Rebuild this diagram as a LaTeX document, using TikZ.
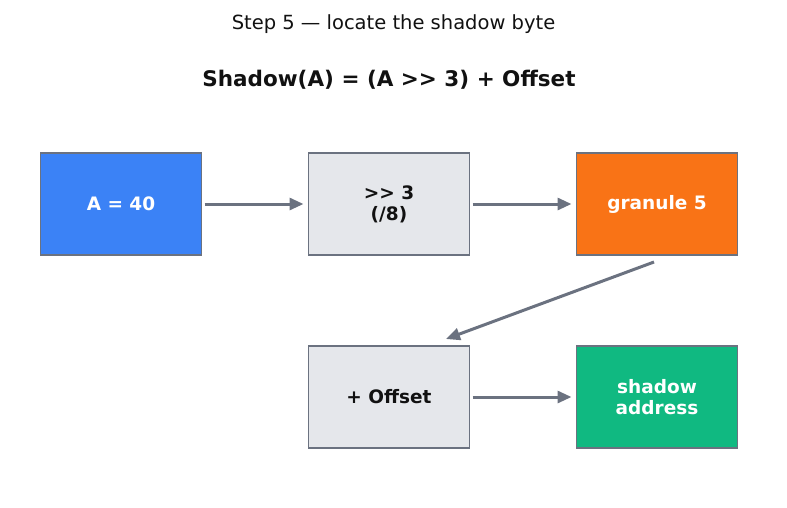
\documentclass[tikz,border=0pt]{standalone}
\usepackage{fontspec}
\setmainfont{DejaVu Sans}
\usepackage{xcolor}
\usetikzlibrary{positioning,calc,arrows.meta}

\definecolor{edgegray}{HTML}{6B7280}
\definecolor{boxgray}{HTML}{E5E7EB}
\definecolor{addrblue}{HTML}{3B82F6}
\definecolor{granorange}{HTML}{F97316}
\definecolor{shadowgreen}{HTML}{10B981}
\definecolor{inkdark}{HTML}{111111}

\tikzset{
    stagebox/.style={draw=edgegray, line width=1.8pt, outer sep=0pt, minimum width=161pt,
        minimum height=102pt, align=center, font=\bfseries\fontsize{18.5}{21}\selectfont},
    flow/.style={-{Triangle[length=14pt,width=12pt]}, draw=edgegray, line width=3pt,
        shorten <=3pt, shorten >=5pt}
}

\begin{document}
\begin{tikzpicture}[x=1pt,y=-1pt]
    \useasboundingbox (0,0) rectangle (787,507);

    % heading and formula
    \node[text=inkdark, font=\fontsize{19.5}{22}\selectfont] (title) at (393.5,24) {Step 5 — locate the shadow byte};
    \node[text=inkdark, font=\bfseries\fontsize{21.5}{25}\selectfont] (formula) at (389,80) {Shadow(A) = (A >{}> 3) + Offset};

    % top row
    \node[stagebox, fill=addrblue, text=white] (addr) at (121,204) {A = 40};
    \node[stagebox, fill=boxgray, text=inkdark, right=107pt of addr] (shift) {>{}> 3\\(/8)};
    \node[stagebox, fill=granorange, text=white, right=107pt of shift] (gran) {granule 5};

    % bottom row
    \node[stagebox, fill=boxgray, text=inkdark, below=91pt of shift] (off) {+ Offset};
    \node[stagebox, fill=shadowgreen, text=white, right=107pt of off] (shadow) {shadow\\address};

    % connectors
    \draw[flow] (addr) -- (shift);
    \draw[flow] (shift) -- (gran);
    \coordinate (dstart) at ($(gran.south)+(-3,7)$);
    \coordinate (dend) at ($(off.north)+(57,-7)$);
    \draw[flow, shorten <=0pt, shorten >=0pt] (dstart) -- (dend);
    \draw[flow] (off) -- (shadow);
\end{tikzpicture}
\end{document}
